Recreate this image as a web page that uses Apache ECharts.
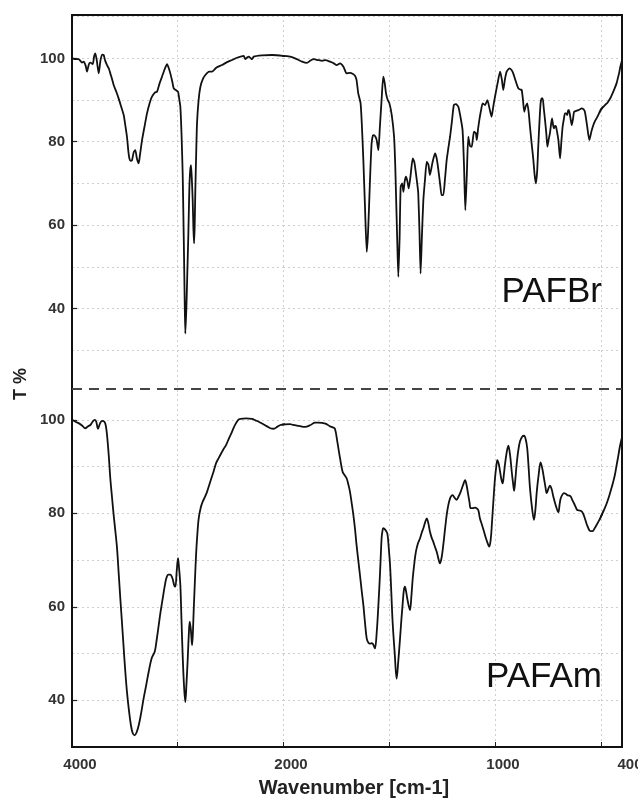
<!DOCTYPE html>
<html>
<head>
<meta charset="utf-8">
<script src="https://cdn.jsdelivr.net/npm/echarts@6/dist/echarts.min.js"></script>
<style>html,body{margin:0;padding:0;background:#fff}#c{width:638px;height:800px}</style>
</head>
<body>
<div id="c"></div>
<script>
// ---------------- DATA ----------------
const panelNames = ['PAFBr', 'PAFAm'];
const xTickLabels = [4000, 2000, 1000, 400];
const yTickLabels = [40, 60, 80, 100];
const axisTitleX = 'Wavenumber [cm-1]';
const axisTitleY = 'T %';

// PAFBr spectrum (upper)
const wnTop = [4000,3960,3937,3905,3889,3870,3858,3840,3826,3804,3790,3779,3765,3747,3730,3715,3700,3685,3668,3650,3637,3620,3605,3580,3558,3535,3510,3495,3479,3465,3456,3443,3431,3415,3400,3385,3368,3355,3336,3310,3289,3265,3242,3215,3194,3170,3147,3120,3099,3085,3068,3050,3036,3015,2995,2985,2973,2962,2951,2944,2938,2932,2926,2916,2907,2897,2888,2880,2872,2864,2856,2849,2843,2837,2831,2823,2815,2800,2783,2760,2736,2700,2673,2630,2578,2530,2483,2430,2373,2357,2340,2325,2305,2294,2278,2200,2104,2000,1967,1935,1910,1887,1870,1854,1835,1815,1800,1778,1760,1747,1731,1715,1700,1685,1668,1660,1653,1645,1634,1628,1621,1613,1605,1599,1593,1588,1582,1576,1571,1564,1558,1550,1543,1535,1527,1520,1514,1506,1498,1487,1476,1471,1467,1461,1456,1450,1445,1438,1432,1426,1420,1413,1407,1398,1388,1380,1373,1367,1362,1356,1351,1345,1338,1330,1322,1314,1307,1295,1283,1275,1267,1258,1252,1244,1236,1228,1220,1212,1203,1194,1184,1173,1163,1153,1146,1140,1133,1126,1118,1110,1099,1090,1086,1080,1074,1066,1058,1047,1036,1026,1016,1008,1000,988,976,968,961,953,945,932,922,914,902,890,880,874,868,862,855,848,841,835,827,819,813,807,801,796,790,785,780,775,770,764,758,753,747,741,736,731,726,722,717,712,706,701,697,693,687,681,675,670,664,659,655,651,645,638,632,627,617,607,599,591,583,576,566,555,545,536,528,521,512,502,490,481,472,466,455,445,435,426,420,414,408,400];
const tTop = [100,99.8,99.8,99.0,99.2,98.2,96.8,98.6,99.0,98.6,100.5,101.2,99.5,96.4,99.5,100.9,100.8,99.4,98.4,97.5,96.4,95.0,93.6,92.0,90.4,88.5,86.4,84.0,81.2,77.5,76,75.4,75.6,77.5,78,76,74.8,77,80.4,84.0,86.8,89.2,90.8,91.8,92,94.0,95.6,97.5,98.6,97.8,96.4,94.5,92.8,92.4,92,90.5,88.4,82,72.4,62,52.4,42,34,40,48.4,58,68.4,73,74.4,71,66,59,55.6,60,68.4,77,84.4,90,93.2,95,96,96.8,96.8,97.8,98.4,99.1,99.6,100.2,100.6,99.8,100.2,100.4,100.0,99.8,100.4,100.7,100.8,100.6,100.4,99.8,99.2,98.9,99.5,99.8,99.6,99.4,99.6,99.2,98.8,98.4,98.8,98,96.4,96.5,96.2,95.8,94.8,91.6,89.2,84,75.6,64,53.6,58,66,73,79.6,81.5,81.6,81.2,80.4,78,83.6,90,95.6,94,91.6,90,89.2,86.4,81.2,75,67.6,56,47.6,57,69.2,70,68,70.5,71.6,70.5,68.8,72,76,75,72.4,70,67.6,58,48.4,57,66,71,75.2,74.5,72,75,77.2,76,73.2,69.5,67.2,67.2,71,75.6,78.5,81.2,85,88.8,89,88.4,86,82.8,74,63.6,72,81.2,79,78.8,82.4,82,80.4,83,85.2,87.5,89.2,88.8,90,88,86,88.5,90.8,94,96.8,95,92.4,95,96.8,97.6,97.2,96.4,94.5,92.8,92.5,92.4,90,87.2,88.5,89.2,87,83.6,79.5,75.6,72,70,73,78.8,85,89.2,90.4,90.4,88,85.2,82,78.8,80.5,82,84,85.6,84,83.2,83.8,83.6,82,80.4,78,76,80,83.6,85.5,86.8,86.8,86.4,87.5,87.6,86,84,85.5,87.2,87.4,87.6,87.8,88,87.8,87.2,84,80.4,82.5,84,85,85.6,86.5,87.6,88.3,88.8,89.2,89.6,90.5,91.6,92.8,94,95.2,96.4,98,99.5];

// PAFAm spectrum (lower)
const wnBottom = [4000,3968,3937,3905,3874,3850,3826,3805,3785,3770,3754,3735,3716,3693,3680,3668,3652,3637,3621,3605,3589,3573,3557,3542,3526,3510,3495,3479,3460,3441,3425,3406,3387,3368,3345,3321,3297,3273,3245,3216,3197,3178,3160,3140,3122,3106,3087,3068,3055,3043,3030,3020,3008,2995,2986,2973,2962,2951,2938,2926,2915,2903,2893,2884,2873,2862,2855,2847,2836,2824,2812,2799,2780,2761,2740,2720,2700,2679,2657,2635,2610,2584,2562,2540,2515,2490,2468,2445,2424,2404,2350,2294,2262,2230,2190,2151,2120,2088,2055,2025,2000,1967,1953,1925,1896,1870,1849,1835,1800,1778,1765,1755,1744,1731,1719,1710,1700,1692,1684,1676,1668,1660,1653,1645,1637,1629,1621,1613,1605,1597,1590,1583,1577,1571,1566,1558,1550,1542,1535,1531,1527,1518,1508,1501,1495,1489,1483,1473,1464,1456,1448,1442,1436,1430,1425,1419,1414,1407,1401,1394,1388,1380,1373,1364,1354,1346,1338,1330,1322,1314,1307,1299,1291,1283,1275,1267,1260,1252,1244,1236,1228,1220,1212,1206,1200,1190,1181,1172,1162,1151,1141,1134,1126,1120,1115,1105,1094,1087,1079,1071,1062,1052,1040,1027,1020,1014,1007,1000,994,989,982,976,970,964,958,953,945,937,929,921,915,910,904,898,890,882,872,863,855,848,841,835,825,816,809,803,794,785,777,769,762,756,748,741,733,725,713,701,695,690,682,675,667,659,651,643,635,627,619,612,601,591,583,576,566,555,547,540,530,521,509,497,485,473,461,450,442,434,426,418,410,400];
const tBottom = [100,99.6,99.3,98.8,98.2,98.6,98.9,99.6,100,99.6,98.1,99.2,99.8,99.6,98.8,96.8,92.5,87.5,83.5,79.6,76.2,72.5,67,61.8,56.5,51.1,46.2,41.8,37.8,34.6,33.0,32.5,33.2,34.6,37.2,40.4,43.2,46.1,49,50.4,53,56.1,59,61.8,64.3,66.1,66.9,66.9,66.5,65.7,64.5,64.3,67.5,70.4,68.5,64.6,57,49.6,43,39.6,43.5,48.9,54,56.8,55,51.8,54,58.9,65,71.1,75.5,78.9,81.2,82.5,83.5,84.6,86,87.5,89,90.7,91.8,92.9,93.8,94.6,95.9,97.1,98.3,99.3,100,100.2,100.3,100.2,99.9,99.6,99.1,98.6,98.2,98.1,98.5,98.9,99.0,99.1,98.9,98.7,98.5,98.9,99.4,99.4,99.2,98.6,98.4,98.1,95.4,91.8,88.9,88.2,87.5,86.2,84.6,82.2,79.6,76.5,73.2,70,66.8,63.5,60.4,56.5,53.2,52.3,52.1,52.2,52.1,51.6,51.1,54.5,60.4,67.5,74.6,76.2,76.8,76.5,75.7,72.5,68.9,63,56.8,50,44.6,48.5,53.2,57,60.4,63.5,64.3,63.2,61.8,60.2,59.3,62.5,66.1,69.5,71.8,73.5,74.6,75.8,76.8,78,78.9,77.8,76.1,74.8,73.9,72.8,71.8,70.3,69.3,70.5,73.2,76.5,79.6,81.8,83.2,83.7,83.9,83.3,82.9,83.6,84.6,86,87.1,86,83.9,82.3,81.1,81.1,81.2,81.1,80.7,78.9,77.6,76.1,74.3,72.9,74.5,78.2,83,87.5,90,91.4,90.5,88.9,87.3,86.4,88.4,90.4,93,94.5,92.5,88.9,86.5,84.8,87.3,90.4,93.5,95.4,96.4,96.6,95.8,93.9,89.5,85.4,81,78.6,81,84.6,88.3,90.9,89.6,87.5,85.6,84.3,85.3,85.9,85.2,83.6,81.6,80.2,82,83.2,84,84.3,84.2,83.9,83.8,83.6,82.8,82.1,81.3,80.7,80.6,80.4,79.8,78.9,77.5,76.4,76.2,76.2,76.8,77.5,78.5,79.6,80.8,82.1,83.7,85.4,86.7,88.2,90.2,92.2,94.3,96.3];

// ---------------- LAYOUT ----------------
const FONT = '"Liberation Sans", Arial, Helvetica, sans-serif';
const frame = { left: 72, top: 15, right: 622, bottom: 747 };
const sepY = 389;
// x is expanded 2x below 2000 cm-1, as on the instrument plot
const cols = [
  { left: 72,  width: 211, min: 2000, max: 4000, interval: 1000, minLine: true,  maxLine: false },
  { left: 283, width: 318, min: 500,  max: 2000, interval: 500,  minLine: true,  maxLine: false },
  { left: 601, width: 21,  min: 400,  max: 500,  interval: 100,  minLine: false, maxLine: false }
];
const panels = [
  { top: 15,  height: 376.9, min: 20, max: 110.4, wn: wnTop,    t: tTop,    smooth: 0.2, labelY: 292 },
  { top: 389, height: 358,   min: 30, max: 106.6, wn: wnBottom, t: tBottom, smooth: 0.35, labelY: 677.5 }
];

const dotted = { color: '#cfcfcf', width: 1, type: [2, 3] };
const grids = [], xAxes = [], yAxes = [], extraY = [], series = [];

// assign each x label to the first column containing it
const labelCol = {};
xTickLabels.forEach(v => {
  for (let i = 0; i < cols.length; i++) {
    if (v >= cols[i].min && v <= cols[i].max) { labelCol[v] = i; break; }
  }
});

panels.forEach((p, pi) => {
  const pairs = p.wn.map((w, k) => [w, p.t[k]]);
  const isBottom = pi === panels.length - 1;
  cols.forEach((c, ci) => {
    const gi = grids.length;
    grids.push({ left: c.left, top: p.top, width: c.width, height: p.height,
                 containLabel: false, outerBoundsMode: 'none', show: false });
    xAxes.push({
      type: 'value', gridIndex: gi, min: c.min, max: c.max, interval: c.interval, inverse: true,
      axisLine: { show: false },
      axisTick: { show: isBottom, inside: true, length: 5, lineStyle: { color: '#222', width: 1 } },
      axisLabel: {
        show: isBottom, showMinLabel: true, showMaxLabel: true, margin: 10,
        padding: [0, 0, 0, 16],
        fontFamily: FONT, fontSize: 15, fontWeight: 'bold', color: '#333',
        formatter: v => (labelCol[v] === ci ? String(v) : '')
      },
      splitLine: { show: true, lineStyle: dotted, showMinLine: c.minLine, showMaxLine: c.maxLine }
    });
    yAxes.push({
      type: 'value', gridIndex: gi, min: p.min, max: p.max, interval: 10,
      axisLine: { show: false }, axisTick: { show: false }, axisLabel: { show: false },
      splitLine: { show: true, lineStyle: dotted, showMinLine: false, showMaxLine: false }
    });
    if (ci === 0) {
      extraY.push({
        type: 'value', gridIndex: gi, min: p.min, max: p.max, position: 'left',
        axisLine: { show: false },
        axisTick: { show: true, inside: true, length: 5, customValues: yTickLabels, lineStyle: { color: '#222', width: 1.2 } },
        axisLabel: { show: true, customValues: yTickLabels, margin: 7, fontFamily: FONT, fontSize: 15, fontWeight: 'bold', color: '#333' },
        splitLine: { show: false }
      });
    }
    series.push({
      type: 'line', xAxisIndex: gi, yAxisIndex: gi, data: pairs,
      showSymbol: false, symbol: 'none', smooth: p.smooth, clip: true, silent: true,
      lineStyle: { color: '#111', width: 1.8 }
    });
  });
});

const graphics = [
  { type: 'rect', z: 100, shape: { x: frame.left, y: frame.top, width: frame.right - frame.left, height: frame.bottom - frame.top },
    style: { fill: 'none', stroke: '#111', lineWidth: 2 } },
  { type: 'line', z: 100, shape: { x1: frame.left, y1: sepY, x2: frame.right, y2: sepY },
    style: { stroke: '#444', lineWidth: 2, lineDash: [10, 7] } },
  { type: 'text', z: 100, x: 21, y: 384, rotation: Math.PI / 2,
    style: { text: axisTitleY, font: 'bold 18px ' + FONT, fill: '#222', textAlign: 'center', textVerticalAlign: 'middle' } },
  { type: 'text', z: 100, x: 354, y: 788,
    style: { text: axisTitleX, font: 'bold 20px ' + FONT, fill: '#222', textAlign: 'center', textVerticalAlign: 'middle' } }
];
panels.forEach((p, pi) => {
  graphics.push({ type: 'text', z: 100, x: 602, y: p.labelY,
    style: { text: panelNames[pi], font: '35px ' + FONT, fill: '#111', textAlign: 'right', textVerticalAlign: 'middle' } });
});

const chart = echarts.init(document.getElementById('c'), null, { renderer: 'canvas' });
chart.setOption({
  animation: false,
  backgroundColor: '#ffffff',
  grid: grids,
  xAxis: xAxes,
  yAxis: yAxes.concat(extraY),
  series: series,
  graphic: graphics
});
</script>
</body>
</html>
